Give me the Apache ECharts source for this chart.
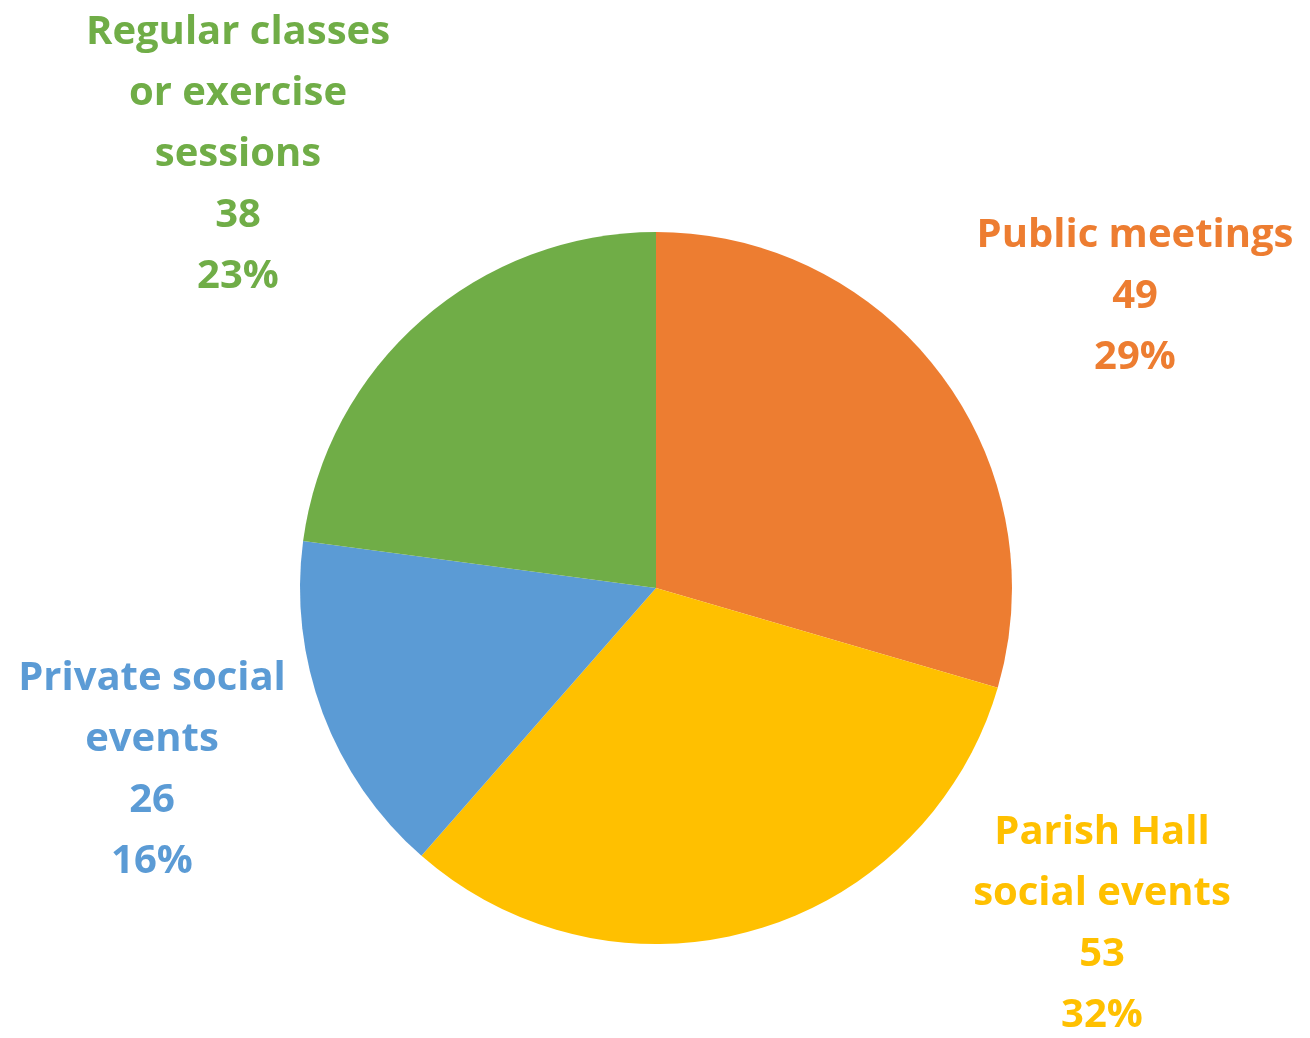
<!DOCTYPE html>
<html>
<head>
<meta charset="utf-8">
<style>
  html, body { margin: 0; padding: 0; background: #fff; }
  #chart { width: 1310px; height: 1038px; }
</style>
<script src="https://cdn.jsdelivr.net/npm/echarts@6/dist/echarts.min.js"></script>
</head>
<body>
<div id="chart"></div>
<script>
// Datos
const categories = ['Public meetings', 'Parish Hall\nsocial events', 'Private social\nevents', 'Regular classes\nor exercise\nsessions'];
const values = [49, 53, 26, 38];
const colors = ['#ED7D31', '#FFC000', '#5B9BD5', '#70AD47'];

// Posicion de cada etiqueta (centro, borde superior)
const labelPos = [[1135, 205], [1102, 802], [152, 648], [238, 2]];

const chart = echarts.init(document.getElementById('chart'));

chart.setOption({
    animation: false,
    series: [{
        type: 'pie',
        center: [656, 588],
        radius: 356,
        startAngle: 90,
        percentPrecision: 0,
        data: categories.map((name, i) => ({
            name: name,
            value: values[i],
            itemStyle: { color: colors[i] },
            label: { color: colors[i] }
        })),
        label: {
            show: true,
            formatter: '{b}\n{c}\n{d}%',
            fontFamily: 'Open Sans',
            fontWeight: 'bold',
            fontSize: 40,
            lineHeight: 61,
            align: 'center',
            overflow: 'none',
            edgeDistance: 0
        },
        labelLine: { show: false },
        labelLayout: function(params) {
            const p = labelPos[params.dataIndex];
            return { x: p[0], y: p[1], align: 'center', verticalAlign: 'top' };
        },
        emphasis: { disabled: true }
    }]
});
</script>
</body>
</html>
